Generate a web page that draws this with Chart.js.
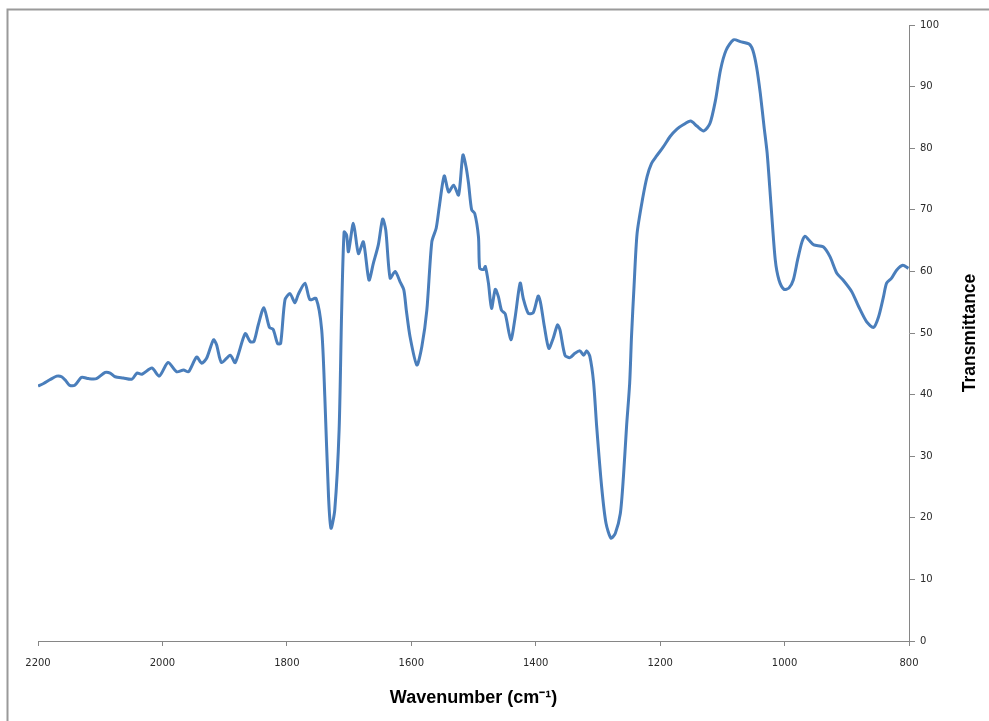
<!DOCTYPE html>
<html>
<head>
<meta charset="utf-8">
<script src="https://cdn.jsdelivr.net/npm/chart.js@4/dist/chart.umd.min.js"></script>
<style>
  html, body { margin: 0; padding: 0; background: #ffffff; }
  canvas { display: block; }
</style>
</head>
<body>
<canvas id="spectrum" width="989" height="721"></canvas>
<script>
// IR spectrum: wavenumber (cm-1) against % transmittance
const wavenumbers = [
  2200, 2191, 2181, 2170, 2162, 2155, 2149, 2141, 2130, 2119, 2106, 2092, 2084, 2076,
  2063, 2049, 2041, 2033, 2017, 2005, 1991, 1977, 1966, 1958, 1945, 1937, 1929, 1918,
  1913, 1905, 1891, 1883, 1867, 1859, 1853, 1846, 1837, 1828, 1822, 1815, 1810, 1803,
  1795, 1787, 1782, 1771, 1763, 1753, 1744, 1739, 1733, 1729, 1723, 1716, 1712, 1708,
  1704, 1701, 1693, 1685, 1677, 1668, 1661, 1653, 1646, 1641, 1634, 1626, 1618, 1612,
  1608, 1602, 1591, 1583, 1575, 1567, 1560, 1555, 1547, 1540, 1532, 1524, 1517, 1512,
  1508, 1503, 1498, 1492, 1490, 1484, 1481, 1476, 1471, 1465, 1460, 1455, 1449, 1440,
  1433, 1425, 1420, 1412, 1404, 1396, 1392, 1386, 1379, 1372, 1365, 1361, 1353, 1345,
  1337, 1329, 1323, 1318, 1313, 1307, 1302, 1294, 1287, 1279, 1272, 1264, 1259, 1254,
  1249, 1246, 1242, 1237, 1228, 1221, 1214, 1206, 1195, 1184, 1173, 1163, 1151, 1141,
  1130, 1120, 1111, 1103, 1094, 1082, 1071, 1057, 1051, 1045, 1039, 1033, 1028, 1022,
  1015, 1009, 1001, 993, 986, 979, 972, 967, 961, 953, 938, 927, 916, 906,
  892, 881, 868, 857, 849, 841, 836, 828, 820, 810, 801
];
const transmittance = [
  41.4, 41.8, 42.4, 43.0, 42.9, 42.2, 41.5, 41.5, 42.8, 42.6, 42.6, 43.6, 43.5, 42.9,
  42.7, 42.5, 43.5, 43.3, 44.3, 43.0, 45.2, 43.7, 44.0, 43.7, 46.1, 45.1, 45.9, 48.9,
  48.1, 45.2, 46.4, 45.2, 49.9, 48.6, 48.6, 51.3, 54.1, 50.9, 50.6, 48.3, 48.3, 55.4,
  56.4, 54.9, 56.2, 58.1, 55.4, 55.6, 50.5, 39.7, 23.4, 18.3, 21.3, 34.3, 53.2, 66.4,
  65.9, 63.2, 67.8, 62.9, 64.8, 58.6, 61.3, 64.3, 68.5, 66.7, 58.9, 60.0, 58.3, 57.0,
  53.7, 49.4, 44.8, 47.8, 53.7, 64.8, 67.0, 70.5, 75.5, 72.9, 74.0, 72.4, 78.9, 77.0,
  74.3, 70.0, 69.4, 65.6, 60.5, 60.3, 60.8, 58.1, 54.0, 57.1, 55.9, 53.7, 53.1, 48.9,
  52.6, 58.1, 55.6, 53.2, 53.3, 56.0, 54.8, 51.0, 47.5, 49.1, 51.3, 50.5, 46.4, 46.0,
  46.7, 47.1, 46.4, 47.1, 46.2, 42.0, 34.8, 25.0, 19.1, 16.7, 17.5, 20.7, 26.7, 34.8,
  41.8, 49.5, 57.5, 66.2, 71.9, 75.4, 77.5, 78.7, 80.2, 81.9, 83.1, 83.8, 84.4, 83.6,
  82.8, 84.0, 87.8, 92.7, 95.9, 97.6, 97.3, 96.9, 95.9, 93.2, 88.9, 83.5, 79.2, 71.1,
  61.9, 58.6, 57.1, 57.3, 58.6, 61.9, 64.8, 65.7, 65.1, 64.3, 64.0, 62.4, 59.7, 58.6,
  56.7, 54.3, 51.8, 50.9, 52.6, 55.9, 58.1, 58.9, 60.2, 61.0, 60.5
];
const xTickValues = [2200, 2000, 1800, 1600, 1400, 1200, 1000, 800];
const yTickValues = [0, 10, 20, 30, 40, 50, 60, 70, 80, 90, 100];

const xTitle = 'Wavenumber (cm\u207B\u00B9)';
const yTitle = 'Transmittance';

const axisGrey = '#868686';
const tickFont = { family: 'DejaVu Sans', size: 10 };
const titleFamily = '"Liberation Sans", Arial, sans-serif';

// White page with the grey chart-area frame
const framePlugin = {
  id: 'frame',
  beforeDraw(chart) {
    const ctx = chart.ctx;
    ctx.save();
    ctx.fillStyle = '#ffffff';
    ctx.fillRect(0, 0, chart.width, chart.height);
    ctx.strokeStyle = '#9a9a9a';
    ctx.lineWidth = 2;
    ctx.strokeRect(7.5, 9.5, 1200, 1200);
    ctx.restore();
  }
};

// Vertical axis title, reading bottom-to-top on the right-hand side
const yTitlePlugin = {
  id: 'yTitle',
  afterDraw(chart) {
    const ctx = chart.ctx;
    const area = chart.chartArea;
    ctx.save();
    ctx.translate(970, (area.top + area.bottom) / 2);
    ctx.rotate(-Math.PI / 2);
    ctx.font = 'bold 17.5px ' + titleFamily;
    ctx.fillStyle = '#000000';
    ctx.textAlign = 'center';
    ctx.textBaseline = 'middle';
    ctx.fillText(yTitle, 0, 0);
    ctx.restore();
  }
};

new Chart(document.getElementById('spectrum'), {
  type: 'line',
  data: {
    datasets: [{
      data: wavenumbers.map((w, i) => ({ x: w, y: transmittance[i] })),
      borderColor: '#4a7ebb',
      borderWidth: 3,
      pointRadius: 0,
      tension: 0.25,
      fill: false
    }]
  },
  options: {
    responsive: false,
    animation: false,
    devicePixelRatio: 1,
    layout: { padding: { left: 38, top: 25, right: 0, bottom: 0 } },
    plugins: {
      legend: { display: false },
      tooltip: { enabled: false }
    },
    scales: {
      x: {
        type: 'linear',
        reverse: true,
        min: 800,
        max: 2200,
        afterBuildTicks(scale) { scale.ticks = xTickValues.map(v => ({ value: v })); },
        afterFit(scale) { scale.height = 80; },
        border: { display: true, color: axisGrey, width: 1 },
        grid: { display: true, drawOnChartArea: false, drawTicks: true, tickLength: 5, tickColor: axisGrey },
        ticks: {
          color: '#2a2a2a',
          font: tickFont,
          padding: 11,
          maxRotation: 0,
          autoSkip: false,
          callback: v => String(v)
        },
        title: {
          display: true,
          text: xTitle,
          color: '#000000',
          font: { family: titleFamily, size: 18, weight: 'bold' },
          padding: { top: 0, bottom: 12 }
        }
      },
      y: {
        type: 'linear',
        position: 'right',
        min: 0,
        max: 100,
        afterBuildTicks(scale) { scale.ticks = yTickValues.map(v => ({ value: v })); },
        afterFit(scale) { scale.width = 80; },
        border: { display: true, color: axisGrey, width: 1 },
        grid: { display: true, drawOnChartArea: false, drawTicks: true, tickLength: 6, tickColor: axisGrey },
        ticks: {
          color: '#2a2a2a',
          font: tickFont,
          padding: 5,
          autoSkip: false,
          callback: v => String(v)
        }
      }
    }
  },
  plugins: [framePlugin, yTitlePlugin]
});
</script>
</body>
</html>
